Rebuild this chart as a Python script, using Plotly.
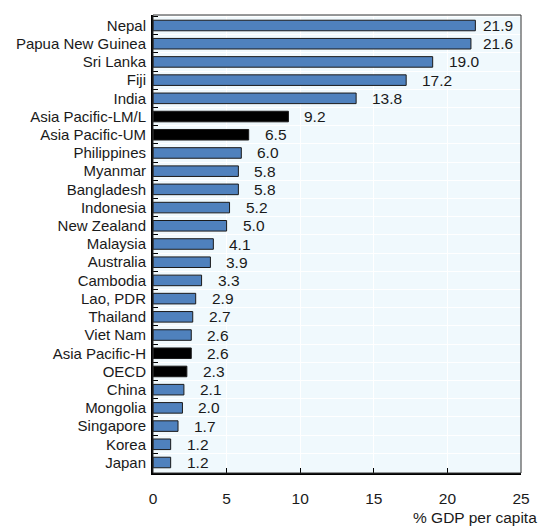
import plotly.graph_objects as go

countries = ["Nepal", "Papua New Guinea", "Sri Lanka", "Fiji", "India",
             "Asia Pacific-LM/L", "Asia Pacific-UM", "Philippines", "Myanmar",
             "Bangladesh", "Indonesia", "New Zealand", "Malaysia", "Australia",
             "Cambodia", "Lao, PDR", "Thailand", "Viet Nam", "Asia Pacific-H",
             "OECD", "China", "Mongolia", "Singapore", "Korea", "Japan"]
values = [21.9, 21.6, 19.0, 17.2, 13.8, 9.2, 6.5, 6.0, 5.8, 5.8, 5.2, 5.0,
          4.1, 3.9, 3.3, 2.9, 2.7, 2.6, 2.6, 2.3, 2.1, 2.0, 1.7, 1.2, 1.2]
aggregates = ["Asia Pacific-LM/L", "Asia Pacific-UM", "Asia Pacific-H", "OECD"]
x_ticks = [0, 5, 10, 15, 20, 25]
x_title = "% GDP per capita"

BLUE = "#4f81bd"
BLACK = "#000000"
FONT = "Liberation Sans, Arial, sans-serif"
FS = 15.5
FS_Y = 15

W, H = 540, 527
ML, MR, MT, MB = 153, 19, 15, 54
plot_w = W - ML - MR
px_per_unit = plot_w / 25.0

colors = [BLACK if c in aggregates else BLUE for c in countries]

fig = go.Figure()
fig.add_trace(go.Bar(
    x=values, y=countries, orientation="h",
    marker=dict(color=colors, line=dict(color="#1a1a1a", width=1)),
    width=0.58, hoverinfo="x+y",
))

for c, v in zip(countries, values):
    shift = min(14, 328 - v * px_per_unit)
    fig.add_annotation(x=v, y=c, text=f"{v:.1f}", showarrow=False,
                       xanchor="left", yanchor="middle", xshift=shift,
                       font=dict(family=FONT, size=FS, color="#1a1a1a"))

fig.add_annotation(xref="paper", yref="paper", x=1, y=0, xshift=18, yshift=-44,
                   xanchor="right", yanchor="middle", text=x_title, showarrow=False,
                   font=dict(family=FONT, size=FS, color="#1a1a1a"))

fig.add_shape(type="rect", xref="paper", yref="paper", x0=0, x1=1, y0=0, y1=1,
              line=dict(color="#333333", width=1), layer="above")

fig.update_layout(
    width=W, height=H,
    margin=dict(l=ML, r=MR, t=MT, b=MB, pad=0, autoexpand=False),
    paper_bgcolor="white", plot_bgcolor="#f0f9fd",
    showlegend=False, bargap=0.4,
    font=dict(family=FONT, size=FS, color="#1a1a1a"),
    xaxis=dict(range=[0, 25], tickvals=x_ticks, ticks="inside", ticklen=5,
               tickcolor="black", tickwidth=1, showgrid=True, gridcolor="white",
               gridwidth=1, showline=True, linecolor="black", linewidth=2,
               zeroline=False, fixedrange=True, automargin=False,
               ticklabelstandoff=10,
               tickfont=dict(family=FONT, size=FS, color="#1a1a1a")),
    yaxis=dict(autorange="reversed", type="category", tickson="boundaries",
               ticks="inside", ticklen=5, tickcolor="black", tickwidth=1,
               showgrid=True, gridcolor="white", gridwidth=1,
               showline=True, linecolor="black", linewidth=2,
               ticklabelstandoff=2, automargin=False,
               tickfont=dict(family=FONT, size=FS_Y, color="#1a1a1a")),
)

fig.write_html("out.html", config={"displayModeBar": False},
               post_script="document.body.style.margin='0';document.body.style.padding='0';document.body.style.overflow='hidden';")
